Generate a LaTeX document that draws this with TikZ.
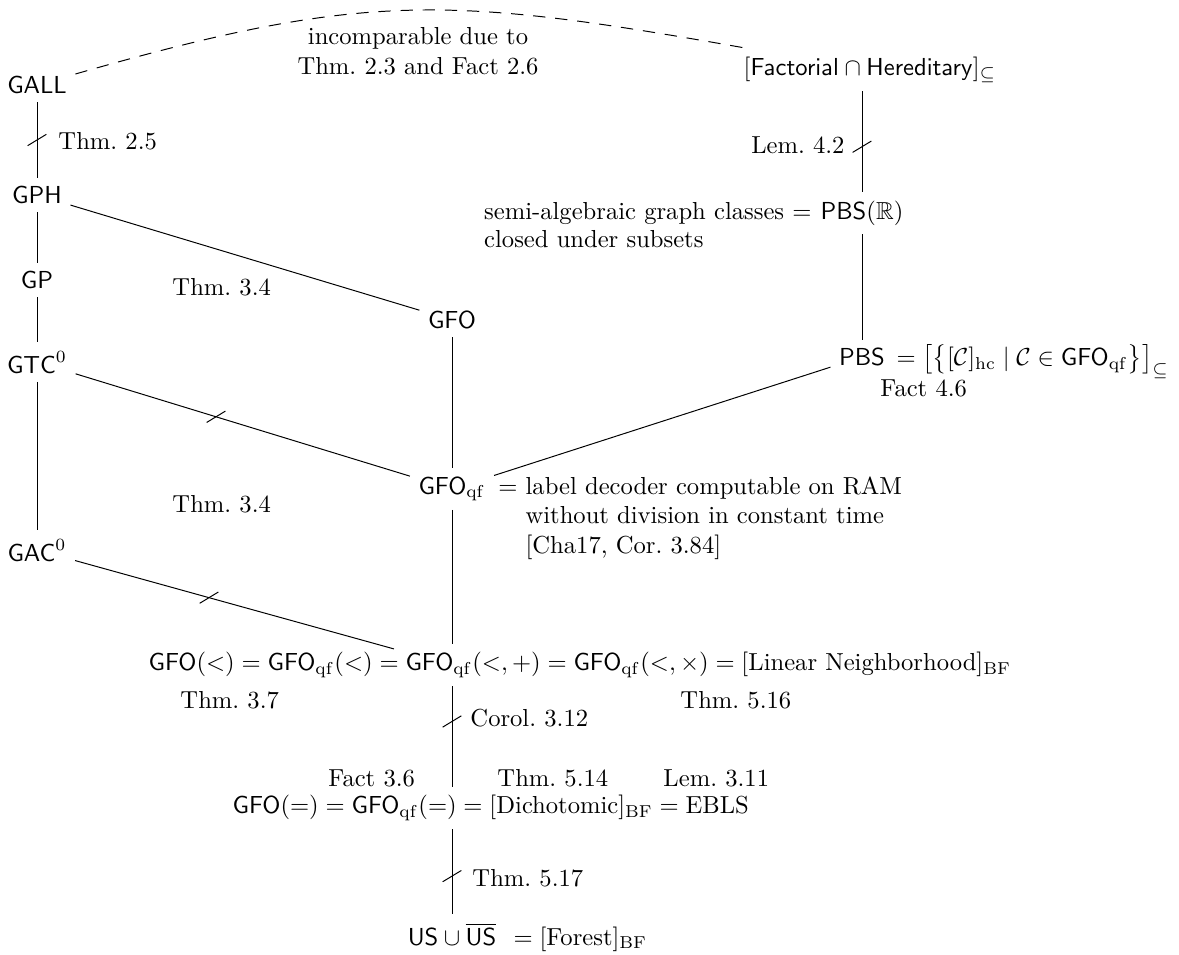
\documentclass[tikz,border=0pt]{standalone}
\usepackage{amsmath,amssymb}
\usetikzlibrary{positioning, calc}

\begin{document}
\begin{tikzpicture}[
    x=0.4065pt, y=-0.4065pt,
    note/.style={inner sep=0pt, anchor=west},
    cut/.pic={\draw (-3.8pt,-2.3pt) -- (3.8pt,2.3pt);}
]
\useasboundingbox (0,0) rectangle (1179,954);

% left column
\node (gall) at (37,85) {$\mathsf{GALL}$};
\node (gph) at (37,195) {$\mathsf{GPH}$};
\node (gp) at (37,280) {$\mathsf{GP}$};
\node (gtc) at (37,362) {$\mathsf{GTC}^0$};
\node (gac) at (37,550) {$\mathsf{GAC}^0$};

% middle column
\node (gfo) at (452,320) {$\mathsf{GFO}$};
\node (gfoqf) at (452,489) {$\mathsf{GFO}_{\mathrm{qf}}$};
\node[anchor=base west, inner sep=1.5pt] (ramdef) at (gfoqf.base east) {$=$\ \begin{tabular}[t]{@{}l@{}}label decoder computable on RAM\\without division in constant time\\{}[Cha17, Cor.\ 3.84]\end{tabular}};
\node[anchor=west] (lin) at (140,665) {$\mathsf{GFO}(<) = \mathsf{GFO}_{\mathrm{qf}}(<) = \mathsf{GFO}_{\mathrm{qf}}(<,+) = \mathsf{GFO}_{\mathrm{qf}}(<,\times) = [\text{Linear Neighborhood}]_{\mathrm{BF}}$};
\node[anchor=west] (dich) at (224,808) {$\mathsf{GFO}(=) = \mathsf{GFO}_{\mathrm{qf}}(=) = [\text{Dichotomic}]_{\mathrm{BF}} = \text{EBLS}$};
\node (forest) at (452,934) {$\mathsf{US} \cup \overline{\mathsf{US}}$};
\node[anchor=base west] (forestdef) at (forest.base east) {$= [\text{Forest}]_{\mathrm{BF}}$};

% right column
\node (fac) at (870,70) {$[\mathsf{Factorial} \cap \mathsf{Hereditary}]_{\subseteq}$};
\node (pbsr) at (862,213) {$\mathsf{PBS}(\mathbb{R})$};
\node[anchor=base east, inner sep=0pt] (semi) at (pbsr.base west) {semi-algebraic graph classes $=$};
\node[anchor=base west, inner sep=0pt] (closed) at ([yshift=-11.5pt]semi.base west) {closed under subsets};
\node (pbs) at (862,357) {$\mathsf{PBS}$};
\node[anchor=base west, inner sep=1pt] (pbsdef) at (pbs.base east) {$=\bigl[\bigl\{[\mathcal{C}]_{\mathrm{hc}} \mid \mathcal{C} \in \mathsf{GFO}_{\mathrm{qf}}\bigr\}\bigr]_{\subseteq}$};

% references
\node[align=center] (incomp) at (418,51) {incomparable due to\\Thm.\ 2.3 and Fact 2.6};
\node[note] (r25) at (58,141) {Thm.\ 2.5};
\node[note, anchor=east] (r42) at (845,145) {Lem.\ 4.2};
\node[note] (r34a) at (172,287) {Thm.\ 3.4};
\node[note] (r34b) at (172,504) {Thm.\ 3.4};
\node[note] (r46) at (880,388) {Fact 4.6};
\node[note] (r37) at (180,700) {Thm.\ 3.7};
\node[note] (r516) at (680,700) {Thm.\ 5.16};
\node[note] (r312) at (470,718) {Corol.\ 3.12};
\node[note] (r36) at (328,778) {Fact 3.6};
\node[note] (r514) at (497,778) {Thm.\ 5.14};
\node[note] (r311) at (663,778) {Lem.\ 3.11};
\node[note] (r517) at (472,878) {Thm.\ 5.17};

% connectors
\coordinate (linc) at (gfoqf |- lin);
\draw (gall) -- coordinate[pos=.5] (t1) (gph);
\pic at (t1) {cut};
\draw (gph) -- (gp);
\draw (gp) -- (gtc);
\draw (gtc) -- (gac);
\draw (gph) -- (gfo);
\draw (gfo) -- (gfoqf);
\draw (gtc) -- coordinate[pos=.42] (t2) (gfoqf);
\pic at (t2) {cut};
\draw (gac) -- coordinate[pos=.42] (t3) ($(gac)!.86!(linc)$);
\pic at (t3) {cut};
\draw (pbs) -- (gfoqf);
\draw (gfoqf) -- (gfoqf |- lin.north);
\draw (gfoqf |- lin.south) -- coordinate[pos=.35] (t4) (gfoqf |- dich.north);
\pic at (t4) {cut};
\draw (gfoqf |- dich.south) -- coordinate[pos=.55] (t5) (forest);
\pic at (t5) {cut};
\draw (fac.south -| pbsr) -- coordinate[pos=.55] (t6) (pbsr);
\pic at (t6) {cut};
\draw (pbsr) -- (pbs);
\draw[dash pattern=on 5pt off 4pt] (gall) to[out=16, in=170, looseness=1.15] (fac);

\end{tikzpicture}
\end{document}
